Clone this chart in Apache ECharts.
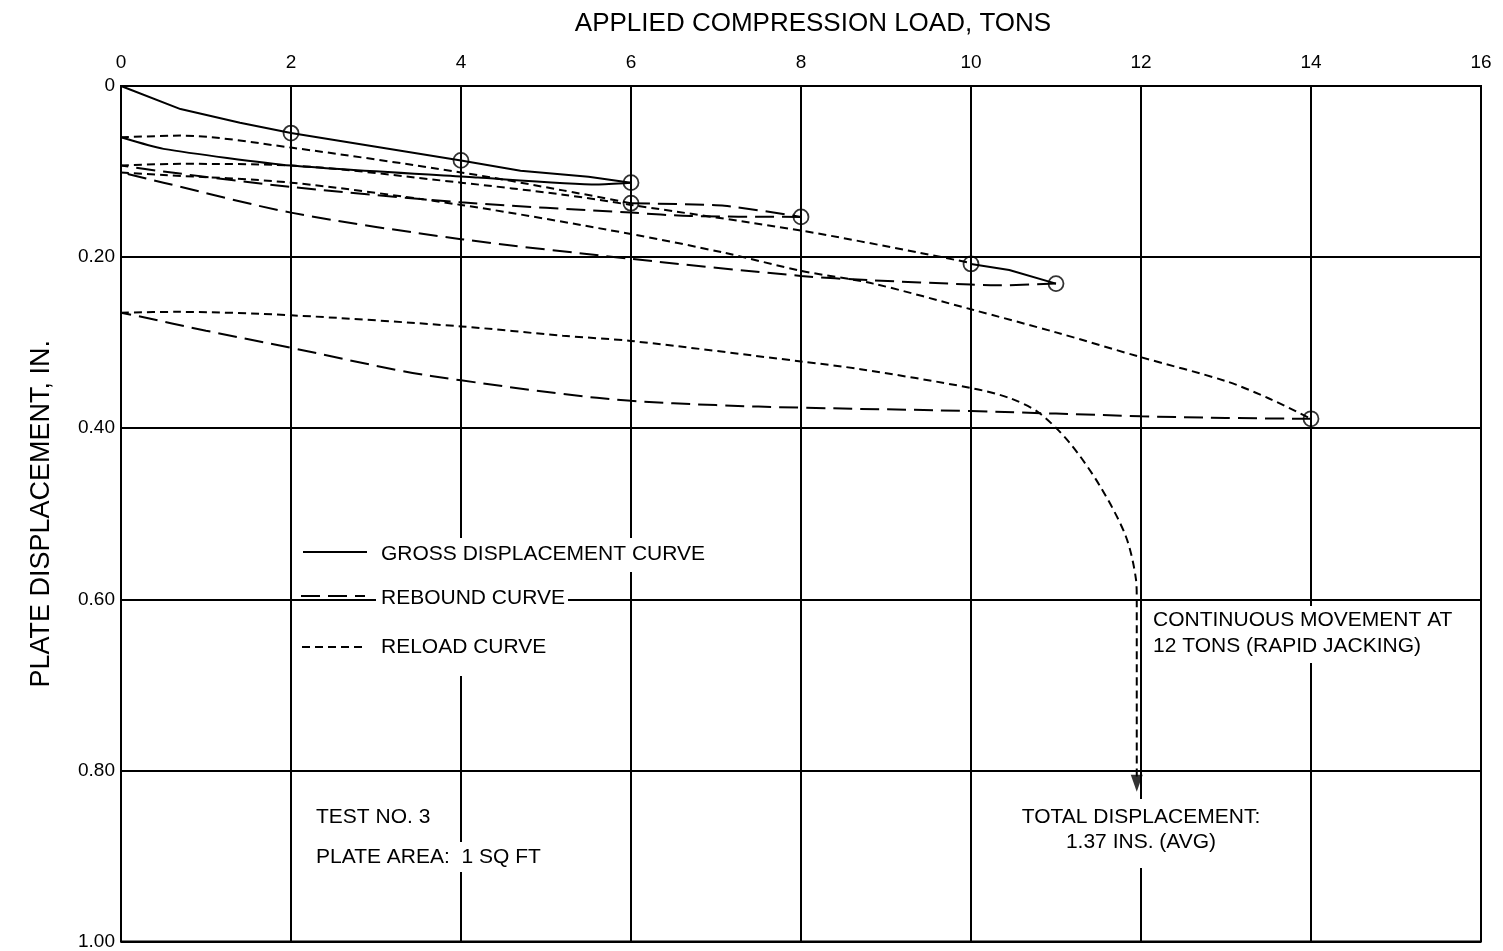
<!DOCTYPE html>
<html>
<head>
<meta charset="utf-8">
<script src="https://cdn.jsdelivr.net/npm/echarts@6/dist/echarts.min.js"></script>
<style>
html,body{margin:0;padding:0;background:#fff;}
#chart{width:1503px;height:951px;}
</style>
</head>
<body>
<div id="chart"></div>
<script>
// Applied load (tons) vs plate displacement (in.)
const xTicks = [0, 2, 4, 6, 8, 10, 12, 14, 16];
const yTicks = [0, 0.2, 0.4, 0.6, 0.8, 1.0];

// gross displacement curve (solid)
const gross1 = [[0,0],[0.7,0.027],[1.4,0.043],[2,0.055],[3,0.071],[4,0.087],[4.7,0.099],[5.5,0.106],[6,0.113]];
const gross1Back = [[6,0.113],[5.6,0.115],[4.2,0.107],[2,0.093],[0.5,0.0735],[0,0.06]];
const gross3 = [[10,0.208],[10.45,0.215],[11,0.231]];
// long dash segments
const gross2 = [[6,0.137],[7.1,0.140],[8,0.153]];
const rebound2 = [[8,0.153],[6.7,0.152],[6,0.148],[4,0.136],[2,0.118],[0.5,0.100],[0,0.093]];
const rebound3 = [[11,0.231],[10.3,0.233],[10,0.232],[8.8,0.227],[8,0.222],[6,0.202],[4,0.179],[2,0.148],[0.5,0.113],[0,0.101]];
const rebound4 = [[14,0.389],[13,0.388],[12,0.386],[10,0.380],[8,0.376],[7,0.373],[6,0.368],[5.2,0.360],[4,0.344],[3.3,0.333],[2,0.306],[1,0.286],[0.2,0.269],[0,0.265]];
// reload curves (short dash)
const reload1 = [[0,0.06],[0.7,0.058],[2,0.072],[4,0.101],[5.2,0.122],[6,0.137]];
const reload2 = [[0,0.093],[0.7,0.091],[2,0.093],[4,0.113],[5.2,0.127],[6,0.139],[8,0.169],[9.4,0.195],[10,0.207]];
const reload3 = [[0,0.101],[0.5,0.104],[2,0.113],[4,0.139],[6,0.173],[7.1,0.195],[8,0.216],[8.85,0.231],[10,0.261],[11,0.288],[12,0.317],[13,0.345],[13.5,0.365],[14,0.389]];
const reload4 = [[0,0.265],[0.66,0.264],[2,0.268],[4,0.281],[5.2,0.292],[6,0.298],[8,0.322],[8.7,0.331],[10,0.353],[10.46,0.365],[10.8,0.382],[11.16,0.417],[11.52,0.468],[11.82,0.526],[11.94,0.576],[11.95,0.60],[11.95,0.81]];
// observed points (circles)
const loadPoints = [[2,0.055],[4,0.087],[6,0.113],[6,0.137],[8,0.153],[10,0.208],[11,0.231],[14,0.389]];
const arrowPoint = [[11.95,0.815]];

const FONT = '"Liberation Sans", Arial, Helvetica, sans-serif';
const SOLID = 'solid';
const LONG = [19, 8];
const SHORT = [8, 5];

function lineSeries(name, data, dash, smooth) {
  return {
    name: name, type: 'line', data: data, showSymbol: false, smooth: smooth,
    lineStyle: {color: '#000', width: 2, type: dash}, z: 3, silent: true, animation: false
  };
}

const chart = echarts.init(document.getElementById('chart'));
chart.setOption({
  animation: false,
  backgroundColor: '#fff',
  grid: {left: 121, right: 22, top: 86, bottom: 8, show: true, borderColor: '#000', borderWidth: 2, backgroundColor: 'transparent'},
  xAxis: {
    type: 'value', position: 'top', min: 0, max: 16, interval: 2,
    axisLine: {show: true, lineStyle: {color: '#000', width: 2}},
    axisTick: {show: false},
    splitLine: {show: true, lineStyle: {color: '#000', width: 2}},
    axisLabel: {color: '#000', fontFamily: FONT, fontSize: 19, margin: 14,
      formatter: v => String(v)}
  },
  yAxis: {
    type: 'value', inverse: true, min: 0, max: 1, interval: 0.2,
    name: 'PLATE DISPLACEMENT, IN.', nameLocation: 'middle', nameGap: 66, nameRotate: 90,
    nameTextStyle: {color: '#000', fontFamily: FONT, fontSize: 27},
    axisLine: {show: true, lineStyle: {color: '#000', width: 2}},
    axisTick: {show: false},
    splitLine: {show: true, lineStyle: {color: '#000', width: 2}},
    axisLabel: {color: '#000', fontFamily: FONT, fontSize: 19, margin: 6,
      formatter: v => (v === 0 ? '0' : v.toFixed(2))}
  },
  series: [
    lineSeries('GROSS DISPLACEMENT CURVE', gross1, SOLID, false),
    lineSeries('GROSS DISPLACEMENT CURVE (back)', gross1Back, SOLID, 0.2),
    lineSeries('GROSS DISPLACEMENT CURVE (10-11)', gross3, SOLID, false),
    lineSeries('LOAD 6-8', gross2, LONG, 0.2),
    lineSeries('REBOUND CURVE 2', rebound2, LONG, 0.3),
    lineSeries('REBOUND CURVE 3', rebound3, LONG, 0.3),
    lineSeries('REBOUND CURVE 4', rebound4, LONG, 0.35),
    lineSeries('RELOAD CURVE 1', reload1, SHORT, 0.3),
    lineSeries('RELOAD CURVE 2', reload2, SHORT, 0.3),
    lineSeries('RELOAD CURVE 3', reload3, SHORT, 0.3),
    lineSeries('RELOAD CURVE 4', reload4, SHORT, 0.3),
    {
      name: 'points', type: 'scatter', data: loadPoints, symbol: 'circle', symbolSize: 15,
      itemStyle: {color: 'rgba(0,0,0,0)', borderColor: '#000', borderWidth: 1.8}, z: 4, silent: true
    },
    {
      name: 'arrow', type: 'scatter', data: arrowPoint, symbol: 'triangle', symbolSize: [12, 17], symbolRotate: 180,
      itemStyle: {color: '#000'}, z: 4, silent: true
    }
  ],
  graphic: [
    {type: 'text', x: 813, y: 24, z: 50, style: {text: 'APPLIED COMPRESSION LOAD, TONS', font: '26px ' + FONT, fill: '#000', align: 'center', verticalAlign: 'middle'}},
    // legend
    {type: 'rect', z: 40, shape: {x: 376, y: 538, width: 340, height: 34}, style: {fill: '#fff'}},
    {type: 'rect', z: 40, shape: {x: 376, y: 572, width: 192, height: 104}, style: {fill: '#fff'}},
    {type: 'line', z: 50, shape: {x1: 303, y1: 552, x2: 367, y2: 552}, style: {stroke: '#000', lineWidth: 2}},
    {type: 'line', z: 50, shape: {x1: 301, y1: 596, x2: 365, y2: 596}, style: {stroke: '#000', lineWidth: 2, lineDash: LONG}},
    {type: 'line', z: 50, shape: {x1: 302, y1: 647, x2: 366, y2: 647}, style: {stroke: '#000', lineWidth: 2, lineDash: SHORT}},
    {type: 'text', x: 381, y: 554, z: 50, style: {text: 'GROSS DISPLACEMENT CURVE', font: '21px ' + FONT, fill: '#000', align: 'left', verticalAlign: 'middle'}},
    {type: 'text', x: 381, y: 598, z: 50, style: {text: 'REBOUND CURVE', font: '21px ' + FONT, fill: '#000', align: 'left', verticalAlign: 'middle'}},
    {type: 'text', x: 381, y: 647, z: 50, style: {text: 'RELOAD CURVE', font: '21px ' + FONT, fill: '#000', align: 'left', verticalAlign: 'middle'}},
    // continuous movement note
    {type: 'rect', z: 40, shape: {x: 1150, y: 606, width: 316, height: 57}, style: {fill: '#fff'}},
    {type: 'text', x: 1153, y: 620, z: 50, style: {text: 'CONTINUOUS MOVEMENT AT', font: '21px ' + FONT, fill: '#000', align: 'left', verticalAlign: 'middle'}},
    {type: 'text', x: 1153, y: 646, z: 50, style: {text: '12 TONS (RAPID JACKING)', font: '21px ' + FONT, fill: '#000', align: 'left', verticalAlign: 'middle'}},
    // total displacement note
    {type: 'rect', z: 40, shape: {x: 1010, y: 799, width: 262, height: 69}, style: {fill: '#fff'}},
    {type: 'text', x: 1141, y: 817, z: 50, style: {text: 'TOTAL DISPLACEMENT:', font: '21px ' + FONT, fill: '#000', align: 'center', verticalAlign: 'middle'}},
    {type: 'text', x: 1141, y: 842, z: 50, style: {text: '1.37 INS. (AVG)', font: '21px ' + FONT, fill: '#000', align: 'center', verticalAlign: 'middle'}},
    // test info
    {type: 'rect', z: 40, shape: {x: 310, y: 842, width: 245, height: 30}, style: {fill: '#fff'}},
    {type: 'text', x: 316, y: 817, z: 50, style: {text: 'TEST NO. 3', font: '21px ' + FONT, fill: '#000', align: 'left', verticalAlign: 'middle'}},
    {type: 'text', x: 316, y: 857, z: 50, style: {text: 'PLATE AREA:  1 SQ FT', font: '21px ' + FONT, fill: '#000', align: 'left', verticalAlign: 'middle'}}
  ]
});
</script>
</body>
</html>
